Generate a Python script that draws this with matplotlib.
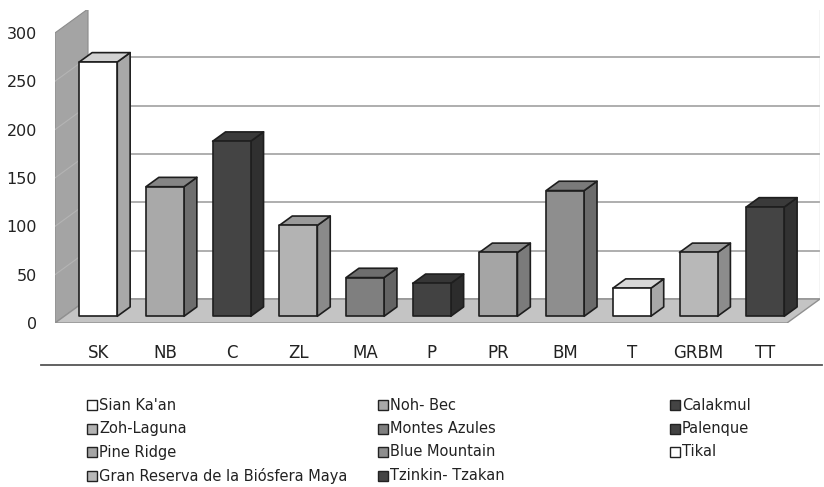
import matplotlib.pyplot as plt
from matplotlib.patches import Polygon, Rectangle
from matplotlib.lines import Line2D

# site codes, full names and counts
codes = ["SK", "NB", "C", "ZL", "MA", "P", "PR", "BM", "T", "GRBM", "TT"]
names = ["Sian Ka'an", "Noh- Bec", "Calakmul", "Zoh-Laguna", "Montes Azules",
         "Palenque", "Pine Ridge", "Blue Mountain", "Tikal",
         "Gran Reserva de la Biósfera Maya", "Tzinkin- Tzakan"]
values = [263, 134, 181, 94, 40, 34, 66, 130, 29, 66, 113]

# front / side / top shades for each bar
front_cols = ["#ffffff", "#a9a9a9", "#444444", "#b3b3b3", "#7f7f7f", "#424242",
              "#a5a5a5", "#8e8e8e", "#ffffff", "#b8b8b8", "#444444"]
side_cols = ["#a8a8a8", "#6e6e6e", "#303030", "#8a8a8a", "#646464", "#2c2c2c",
             "#7b7b7b", "#6b6b6b", "#a8a8a8", "#8c8c8c", "#323232"]
top_cols = ["#d2d2d2", "#858585", "#3a3a3a", "#9a9a9a", "#6e6e6e", "#363636",
            "#8a8a8a", "#7a7a7a", "#d8d8d8", "#9c9c9c", "#3a3a3a"]

yticks = [0, 50, 100, 150, 200, 250, 300]

# depth of the box in data units (x in categories, y in value units)
DX = 0.495
DY = 24.8
d0, d1 = 0.28, 0.67   # bar front / back depth
w = 0.57
x0, x1 = -0.51, 10.96

fig = plt.figure(figsize=(8.24, 4.87), dpi=100)
ax = fig.add_axes([55 / 824, (487 - 323) / 487, 765 / 824, 313 / 487])
ax.set_xlim(x0, x1)
ax.set_ylim(0, 323.7)
for s in ax.spines.values():
    s.set_visible(False)

def sh(x, y, d):
    return (x + d * DX, y + d * DY)

# back wall with gridlines
ax.add_patch(Polygon([sh(x0, 0, 1), (x1, DY), (x1, 300 + DY), sh(x0, 300, 1)],
                     closed=True, fc="white", ec="none", zorder=0))
for t in yticks:
    ax.plot([x0 + DX, x1], [t + DY, t + DY], color="#a8a8a8", lw=1.3, zorder=1)
ax.plot([x1, x1], [DY, 300 + DY], color="#c8c8c8", lw=1, zorder=1)

# left wall
ax.add_patch(Polygon([(x0, 0), sh(x0, 0, 1), sh(x0, 300, 1), (x0, 300)],
                     closed=True, fc="#a4a4a4", ec="#8c8c8c", lw=0.8, zorder=1))
for t in yticks[1:-1]:
    ax.plot([x0, x0 + DX], [t, t + DY], color="#b4b4b4", lw=0.8, zorder=1)

# floor
xf = x1 - DX
ax.add_patch(Polygon([(x0, 0), (xf, 0), sh(xf, 0, 1), sh(x0, 0, 1)],
                     closed=True, fc="#c4c4c4", ec="#909090", lw=1.0, zorder=1))

# 3-D bars
for i, v in enumerate(values):
    xl = i - w / 2
    xr = i + w / 2
    front = [sh(xl, 0, d0), sh(xr, 0, d0), sh(xr, v, d0), sh(xl, v, d0)]
    side = [sh(xr, 0, d0), sh(xr, 0, d1), sh(xr, v, d1), sh(xr, v, d0)]
    top = [sh(xl, v, d0), sh(xr, v, d0), sh(xr, v, d1), sh(xl, v, d1)]
    for pts, c in [(side, side_cols[i]), (top, top_cols[i]), (front, front_cols[i])]:
        ax.add_patch(Polygon(pts, closed=True, fc=c, ec="#1e1e1e", lw=1.2,
                             joinstyle="round", zorder=3))

# axis labels
ax.set_yticks(yticks)
ax.set_yticklabels([str(t) for t in yticks], fontsize=11.5, color="#222222")
ax.set_xticks([i + d0 * DX for i in range(len(codes))])
ax.set_xticklabels(codes, fontsize=12, color="#222222")
ax.tick_params(axis="y", length=0, pad=13)
ax.tick_params(axis="x", length=0, pad=15)

# separator line above the legend
fig.add_artist(Line2D([41 / 824, 822 / 824], [1 - 365 / 487, 1 - 365 / 487],
                      color="#555555", lw=1.3))

# legend, filled row by row
col_x = [87, 378, 670]
row_y = [405, 428.5, 452, 476]
for k, name in enumerate(names):
    px = col_x[k % 3]
    py = row_y[k // 3]
    fig.add_artist(Rectangle((px / 824, 1 - (py + 5) / 487), 10 / 824, 10 / 487,
                             fc=front_cols[k], ec="#222222", lw=1.0))
    fig.text((px + 12) / 824, 1 - py / 487, name, fontsize=10.5, family="DejaVu Sans",
             color="#222222", va="center", ha="left")

fig.savefig("out.png", dpi=100)
